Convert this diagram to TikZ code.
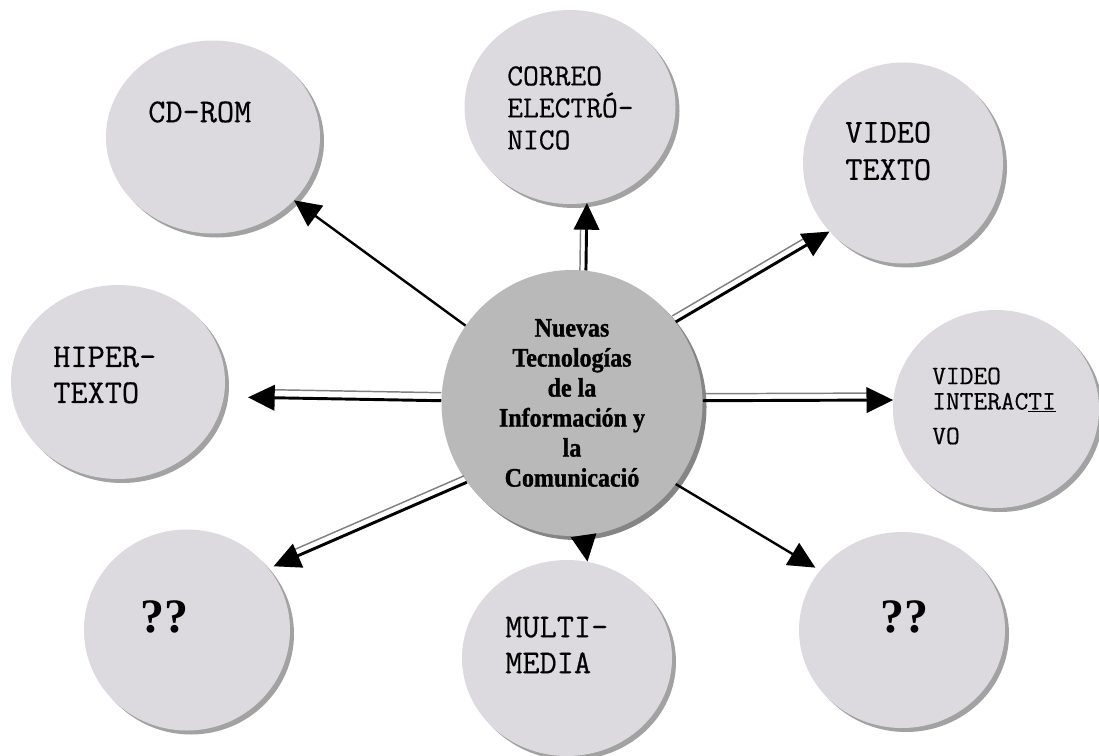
\documentclass[tikz,border=0pt]{standalone}
\usepackage{fontspec}
\usetikzlibrary{shapes.geometric,shadows,arrows.meta}
\newfontfamily\hubfont[FakeStretch=0.9, BoldFeatures={FakeBold=1.2}]{Liberation Serif}
\newfontfamily\markfont{Liberation Serif}
\newfontfamily\lblfont[FakeBold=0.5]{Latin Modern Mono}
\definecolor{bubblefill}{HTML}{DCDADF}
\definecolor{bubbleshade}{HTML}{A2A2A2}
\definecolor{hubfill}{HTML}{B9B9B9}
\definecolor{hubshade}{HTML}{858585}
\begin{document}
\begin{tikzpicture}[x=0.75pt, y=-0.75pt,
  bubble/.style={ellipse, inner sep=0pt, fill=bubblefill,
    drop shadow={shadow xshift=3pt, shadow yshift=-3pt, fill=bubbleshade, opacity=1}},
  hubbubble/.style={ellipse, inner sep=0pt, fill=hubfill,
    drop shadow={shadow xshift=3pt, shadow yshift=-3pt, fill=hubshade, opacity=1}},
  lbl/.style={anchor=west, align=left, inner sep=0pt,
    font=\lblfont\fontsize{25}{27}\selectfont},
  qmark/.style={anchor=west, inner sep=0pt, font=\markfont\bfseries\fontsize{36}{36}\selectfont},
  hubtext/.style={align=center, inner sep=0pt,
    font=\hubfont\bfseries\fontsize{20}{22.5}\selectfont},
  mainline/.style={line width=2.2pt, draw=black, -{Triangle[length=20pt,width=19pt]}},
  sideline/.style={line width=1.1pt, draw=black!50, shorten >=20pt},
  singleline/.style={line width=1.8pt, draw=black, -{Triangle[length=20pt,width=19pt]}}
]
\fill[white] (0,0) rectangle (1099,756);
\useasboundingbox (0,0) rectangle (1099,756);

% outer bubbles
\node[bubble, minimum width=160.5pt, minimum height=144.75pt] (cdrom) at (213,137) {};
\node[bubble, minimum width=158.25pt, minimum height=145.5pt] (correo) at (570,107) {};
\node[bubble, minimum width=150pt, minimum height=150.75pt] (vtexto) at (903,163) {};
\node[bubble, minimum width=160.5pt, minimum height=145.5pt] (hiper) at (118,382) {};
\node[bubble, minimum width=154.5pt, minimum height=148.5pt] (vinter) at (996,409) {};
\node[bubble, minimum width=154.5pt, minimum height=150.75pt] (qleft) at (187,630) {};
\node[bubble, minimum width=157.5pt, minimum height=147pt] (multi) at (567,658) {};
\node[bubble, minimum width=154.5pt, minimum height=147pt] (qright) at (902,630) {};

% central bubble
\node[hubbubble, minimum width=195.75pt, minimum height=199.5pt] (hub) at (572,403) {};

% texts
\node[lbl] (cdromtxt) at (148,112) {CD-ROM};
\node[lbl, font=\lblfont\fontsize{23}{24}\selectfont] (correotxt) at (507,108) {CORREO\\ELECTRÓ-\\NICO};
\node[lbl, font=\lblfont\fontsize{25}{28}\selectfont] (vtextotxt) at (845,151) {VIDEO\\TEXTO};
\node[lbl] (hipertxt) at (53,375) {HIPER-\\TEXTO};
\node[lbl, font=\lblfont\fontsize{20}{19}\selectfont] (vintertxt) at (932,406) {VIDEO\\INTERAC\underline{TI}\\[7pt]VO};
\node[qmark] (qlefttxt) at (140,617) {??};
\node[lbl] (multitxt) at (505,645) {MULTI-\\MEDIA};
\node[qmark] (qrighttxt) at (880,617) {??};
\node[hubtext] (hubtxt) at (572,403) {Nuevas\\Tecnologías\\de la\\Información y\\la\\Comunicació};

% connectors
\draw[singleline] (hub.144) -- (cdrom.322);

\draw[sideline, transform canvas={shift={(-6,0)}}] (hub.84) -- (correo.280);
\draw[mainline] (hub.84) -- (correo.280);

\draw[sideline, transform canvas={shift={(-3.5,-6)}}] (hub.38) -- (vtexto.223);
\draw[mainline] (hub.38) -- (vtexto.223);

\draw[sideline, shorten >=38pt, transform canvas={shift={(0,-8)}}] (hub.179) -- (hiper.352);
\draw[mainline, shorten >=18pt] (hub.179) -- (hiper.352);

\draw[sideline, transform canvas={shift={(0,-7)}}] (hub.1) -- (vinter.175);
\draw[mainline] (hub.1) -- (vinter.175);

\draw[sideline, shorten >=24pt, transform canvas={shift={(-2.9,-6.4)}}] (hub.217) -- (qleft.37);
\draw[mainline, shorten >=4pt] (hub.217) -- (qleft.37);

\draw[mainline] (hub.275) -- (multi.78);

\draw[singleline, shorten >=4pt] (hub.322) -- (qright.144);
\end{tikzpicture}
\end{document}
